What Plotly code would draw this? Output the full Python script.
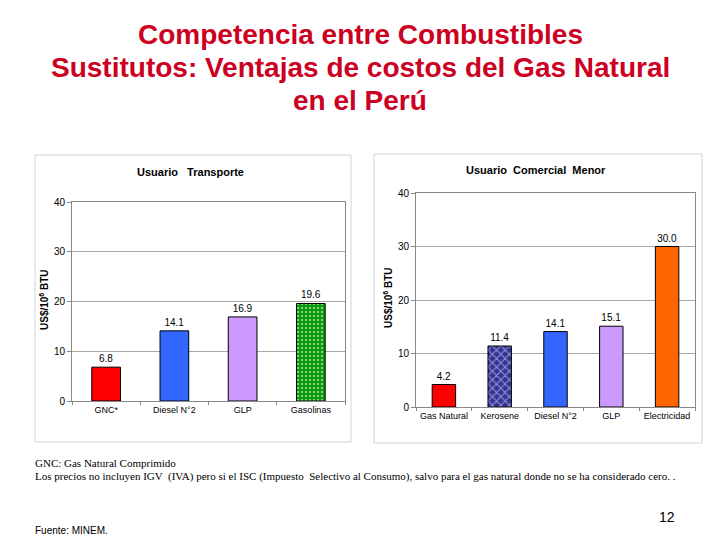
import plotly.graph_objects as go

# Data
transp_cats = ["GNC*", "Diesel N°2", "GLP", "Gasolinas"]
transp_vals = [6.8, 14.1, 16.9, 19.6]
transp_colors = ["#FF0000", "#3366FF", "#CC99FF", "#009900"]

com_cats = ["Gas Natural", "Kerosene", "Diesel N°2", "GLP", "Electricidad"]
com_vals = [4.2, 11.4, 14.1, 15.1, 30.0]
com_colors = ["#FF0000", "#333399", "#3366FF", "#CC99FF", "#FF6600"]

y_ticks = [0, 10, 20, 30, 40]

title_lines = ["Competencia entre Combustibles",
               "Sustitutos: Ventajas de costos del Gas Natural",
               "en el Perú"]

W, H = 720, 540
def px(x): return x / W
def py(y): return 1 - y / H

fig = go.Figure()

fig.add_trace(go.Bar(
    x=transp_cats, y=transp_vals, xaxis="x", yaxis="y",
    width=0.42,
    marker=dict(color=transp_colors, line=dict(color="#000000", width=1),
                pattern=dict(shape=["", "", "", "."], fgcolor="#33BB33",
                             size=4, solidity=0.35)),
    text=[f"{v:.1f}" for v in transp_vals], textposition="outside",
    textfont=dict(family="Liberation Sans, Arial", size=10, color="#000"),
    cliponaxis=False, showlegend=False, hoverinfo="skip"))

fig.add_trace(go.Bar(
    x=com_cats, y=com_vals, xaxis="x2", yaxis="y2",
    width=0.42,
    marker=dict(color=com_colors, line=dict(color="#000000", width=1),
                pattern=dict(shape=["", "x", "", "", ""], fgcolor="#7777DD",
                             size=6, solidity=0.3)),
    text=[f"{v:.1f}" for v in com_vals], textposition="outside",
    textfont=dict(family="Liberation Sans, Arial", size=10, color="#000"),
    cliponaxis=False, showlegend=False, hoverinfo="skip"))

axis_common = dict(showline=True, linecolor="#888888", linewidth=1, mirror=True,
                   fixedrange=True, automargin=False)
xcommon = dict(axis_common, type="category", tickson="boundaries", ticks="outside",
               ticklen=3, tickcolor="#888888", tickangle=0,
               tickfont=dict(family="Liberation Sans, Arial", size=9, color="#000"))
ycommon = dict(axis_common, range=[0, 40], tickvals=y_ticks, ticks="outside",
               ticklen=4, tickcolor="#888888", showgrid=True, gridcolor="#A8A8A0",
               gridwidth=1, zeroline=False,
               tickfont=dict(family="Liberation Sans, Arial", size=10, color="#000"))

fig.update_layout(
    width=W, height=H, margin=dict(l=0, r=0, t=0, b=0, autoexpand=False),
    paper_bgcolor="#FFFFFF", plot_bgcolor="#FFFFCC",
    xaxis=dict(xcommon, domain=[px(72), px(345)], anchor="y"),
    yaxis=dict(ycommon, domain=[py(401), py(202)], anchor="x"),
    xaxis2=dict(xcommon, domain=[px(416), px(695)], anchor="y2"),
    yaxis2=dict(ycommon, domain=[py(407), py(193)], anchor="x2"),
    bargap=0.5,
)

shapes = [
    dict(type="rect", xref="paper", yref="paper", x0=px(35), x1=px(351),
         y0=py(442), y1=py(155), line=dict(color="#D4D4D4", width=1),
         fillcolor="#FFFFFF", layer="below"),
    dict(type="rect", xref="paper", yref="paper", x0=px(374), x1=px(702),
         y0=py(443), y1=py(154), line=dict(color="#D4D4D4", width=1),
         fillcolor="#FFFFFF", layer="below"),
]
fig.update_layout(shapes=shapes)

ann = []
for line, ycen in zip(title_lines, [34, 68, 101]):
    ann.append(dict(text=f"<b>{line}</b>", x=px(360), y=py(ycen), xref="paper",
                    yref="paper", xanchor="center", yanchor="middle", showarrow=False,
                    font=dict(family="Liberation Sans, Arial", size=28, color="#CC0022")))
title_font = dict(family="Liberation Sans, Arial", size=11, color="#000")
ann.append(dict(text="<b>Usuario   Transporte</b>", x=px(190), y=py(172),
                xanchor="center", yanchor="middle",
                xref="paper", yref="paper", showarrow=False, font=title_font))
ann.append(dict(text="<b>Usuario  Comercial  Menor</b>", x=px(536), y=py(170),
                xanchor="center", yanchor="middle",
                xref="paper", yref="paper", showarrow=False, font=title_font))
ytitle_font = dict(family="Liberation Sans, Arial", size=10, color="#000")
ann.append(dict(text="<b>US$/10<sup>6</sup> BTU</b>", x=px(44), y=py(300),
                xanchor="center", yanchor="middle",
                xref="paper", yref="paper", showarrow=False, textangle=-90,
                font=ytitle_font))
ann.append(dict(text="<b>US$/10<sup>6</sup> BTU</b>", x=px(388), y=py(298),
                xanchor="center", yanchor="middle",
                xref="paper", yref="paper", showarrow=False, textangle=-90,
                font=ytitle_font))
foot_font = dict(family="Liberation Serif, Times New Roman", size=11, color="#000")
ann.append(dict(text="GNC: Gas Natural Comprimido", x=px(33), y=py(463),
                xref="paper", yref="paper", xanchor="left", yanchor="middle",
                showarrow=False, font=foot_font))
ann.append(dict(text="Los precios no incluyen IGV  (IVA) pero si el ISC (Impuesto  Selectivo al Consumo), "
                     "salvo para el gas natural donde no se ha considerado cero. .",
                x=px(33), y=py(476), xref="paper", yref="paper", xanchor="left",
                yanchor="middle", showarrow=False, font=foot_font))
ann.append(dict(text="Fuente: MINEM.", x=px(33), y=py(530), xref="paper", yref="paper",
                xanchor="left", yanchor="middle", showarrow=False,
                font=dict(family="Liberation Sans, Arial", size=10, color="#000")))
ann.append(dict(text="12", x=px(677), y=py(517), xref="paper", yref="paper",
                xanchor="right", yanchor="middle", showarrow=False,
                font=dict(family="Liberation Sans, Arial", size=14, color="#000")))
fig.update_layout(annotations=ann)

fig.write_html("out.html", config={"displayModeBar": False},
               post_script="document.body.style.margin='0px';"
                           "document.body.style.padding='0px';"
                           "document.body.style.overflow='hidden';")
